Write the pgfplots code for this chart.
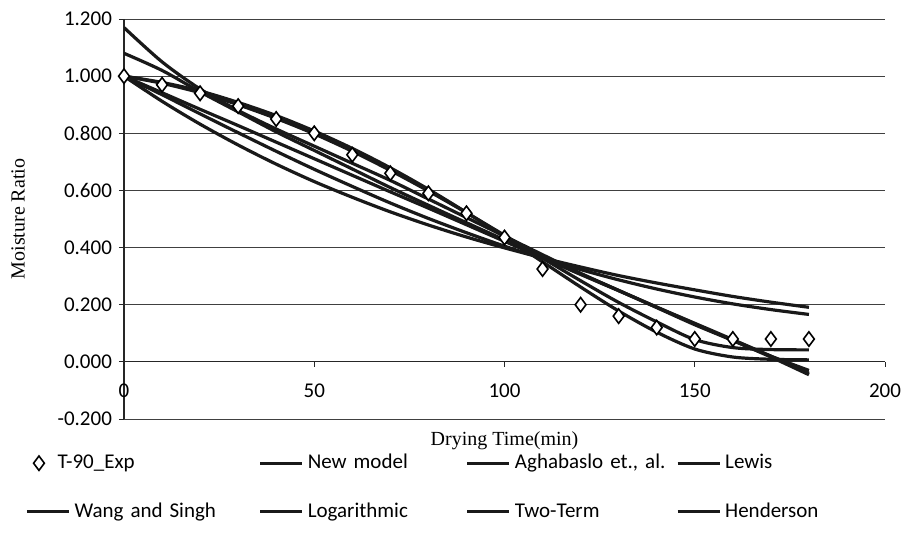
\documentclass[border=0pt]{standalone}
\usepackage{pgfplots}
\pgfplotsset{compat=1.18}
\usepackage{fontspec}
\setmainfont{Carlito}
\newfontfamily\seriffont{Liberation Serif}

\pgfplotsset{markleg/.style={legend image code/.code={\draw[mark repeat=2,mark phase=2,##1] plot coordinates {(0pt,0pt) (6pt,0pt) (12pt,0pt)};}}}

\pgfplotstableread{
t exp newm agha lewis wang loga two hend
0   1.000 1.000 1.000 1.000 1.000 1.080 1.170 1.000
10  0.970 0.975 0.978 0.912 0.942 1.020 1.050 0.935
20  0.940 0.942 0.948 0.832 0.884 0.945 0.955 0.868
30  0.895 0.900 0.908 0.759 0.827 0.875 0.880 0.802
40  0.850 0.852 0.862 0.692 0.769 0.805 0.815 0.737
50  0.800 0.798 0.808 0.631 0.711 0.740 0.755 0.674
60  0.725 0.737 0.747 0.576 0.653 0.675 0.695 0.614
70  0.660 0.670 0.679 0.525 0.595 0.610 0.635 0.556
80  0.590 0.598 0.604 0.479 0.538 0.548 0.570 0.502
90  0.520 0.522 0.523 0.437 0.480 0.487 0.505 0.452
100 0.435 0.443 0.438 0.399 0.422 0.427 0.440 0.405
110 0.325 0.363 0.350 0.364 0.364 0.367 0.375 0.362
120 0.200 0.284 0.262 0.332 0.306 0.308 0.310 0.323
130 0.160 0.208 0.178 0.302 0.249 0.250 0.250 0.287
140 0.120 0.140 0.104 0.276 0.191 0.192 0.190 0.255
150 0.080 0.078 0.045 0.252 0.133 0.135 0.130 0.227
160 0.080 0.050 0.017 0.229 0.075 0.078 0.075 0.203
170 0.080 0.043 0.009 0.209 0.017 0.020 0.020 0.183
180 0.080 0.042 0.007 0.191 -0.045 -0.040 -0.030 0.166
}\data

\begin{document}
\begin{tikzpicture}[x=1pt,y=1pt]
\path[use as bounding box] (0,0) rectangle (454,268.5);
\begin{axis}[
  at={(62pt,59pt)}, anchor=south west,
  scale only axis, width=380.5pt, height=200pt,
  xmin=0, xmax=200, ymin=-0.2, ymax=1.2,
  axis y line=left, axis x line=middle,
  hide obscured x ticks=false, hide obscured y ticks=false,
  axis line style={-, black!85, line width=0.6pt},
  xtick={0,50,100,150,200},
  ytick={-0.2,0,0.2,0.4,0.6,0.8,1.0,1.2},
  tick align=outside, major tick length=2.5pt,
  tick style={black!85, line width=0.5pt},
  ymajorgrids, grid style={black!75, line width=0.5pt},
  yticklabel style={/pgf/number format/.cd, fixed, fixed zerofill, precision=3, assume math mode=true},
  xticklabel style={/pgf/number format/assume math mode=true, yshift=-5pt},
  tick label style={font=\fontsize{10.5}{12}\selectfont},
  xlabel={Drying Time(min)},
  ylabel={Moisture Ratio},
  xlabel style={at={(axis description cs:0.5,0)}, anchor=north, yshift=-3pt, font=\seriffont\fontsize{10}{12}\selectfont},
  ylabel style={at={(axis description cs:-0.139,0.5)}, anchor=center, font=\seriffont\fontsize{10}{12}\selectfont},
  legend columns=4,
  legend cell align=left,
  legend image code/.code={\draw[#1] (0pt,0pt) -- (21pt,0pt);},
  legend style={at={(axis description cs:-0.138,-0.0675)}, anchor=north west, draw=none, fill=none,
    font=\fontsize{10.5}{12}\selectfont, row sep=11.5pt, column sep=0pt,
    /tikz/column 2/.style={text width=90pt},
    /tikz/column 4/.style={text width=77pt},
    /tikz/column 6/.style={text width=78.5pt},
    /tikz/column 8/.style={text width=60pt}},
  every axis plot/.append style={line width=1.6pt, black!90},
]
\addplot[only marks, mark=diamond*, mark size=3.6pt, mark options={fill=white, draw=black, line width=0.8pt}, markleg]
  table[x=t,y=exp]{\data};
\addlegendentry{\hspace*{-8.5pt}T-90\_Exp}
\addplot[smooth, no marks] table[x=t,y=newm]{\data};
\addlegendentry{New model}
\addplot[smooth, no marks] table[x=t,y=agha]{\data};
\addlegendentry{Aghabaslo et., al.}
\addplot[smooth, no marks] table[x=t,y=lewis]{\data};
\addlegendentry{Lewis}
\addplot[smooth, no marks] table[x=t,y=wang]{\data};
\addlegendentry{Wang and Singh}
\addplot[smooth, no marks] table[x=t,y=loga]{\data};
\addlegendentry{Logarithmic}
\addplot[smooth, no marks] table[x=t,y=two]{\data};
\addlegendentry{Two-Term}
\addplot[smooth, no marks] table[x=t,y=hend]{\data};
\addlegendentry{Henderson}
\end{axis}
\end{tikzpicture}
\end{document}
